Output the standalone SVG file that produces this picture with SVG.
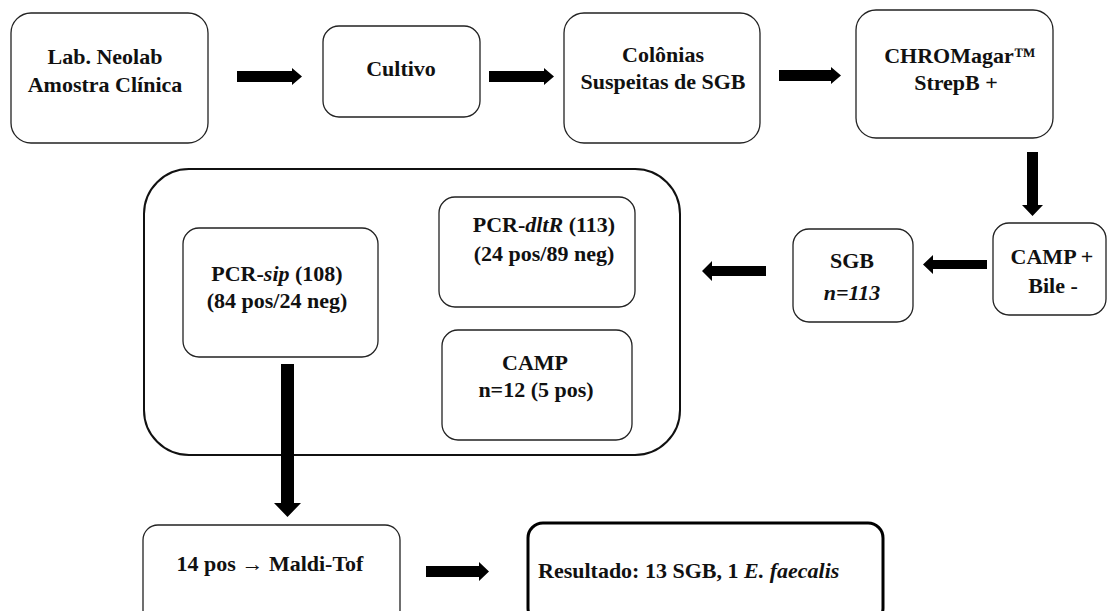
<svg xmlns="http://www.w3.org/2000/svg" width="1107" height="611" viewBox="0 0 1107 611">
<style>
.box{fill:#fff;stroke:#222;stroke-width:1.3}
.big{fill:none;stroke:#111;stroke-width:2}
.res{fill:#fff;stroke:#000;stroke-width:3}
.t{font-weight:bold;font-size:22px;fill:#111;text-anchor:middle}
.i{font-style:italic}
.arr{fill:#000}
</style>
<rect width="1107" height="611" fill="#fff"/>
<g font-family="Liberation Serif, DejaVu Serif, Times New Roman, serif">
<g id="lab">
<rect class="box" x="11" y="13" width="197" height="130" rx="20"/>
<text class="t" x="105" y="64">Lab. Neolab</text>
<text class="t" x="105" y="92">Amostra Clínica</text>
</g>
<g id="cultivo">
<rect class="box" x="323" y="26" width="157" height="91" rx="16"/>
<text class="t" x="401" y="76">Cultivo</text>
</g>
<g id="colonias">
<rect class="box" x="564" y="13" width="196" height="130" rx="20"/>
<text class="t" x="663" y="62">Colônias</text>
<text class="t" x="663" y="89">Suspeitas de SGB</text>
</g>
<g id="chromagar">
<rect class="box" x="856" y="10" width="197" height="128" rx="20"/>
<text class="t" x="960" y="63">CHROMagar™</text>
<text class="t" x="956" y="90">StrepB +</text>
</g>
<g id="campbile">
<rect class="box" x="993" y="223" width="113" height="92" rx="16"/>
<text class="t" x="1052" y="264">CAMP +</text>
<text class="t" x="1053" y="293">Bile -</text>
</g>
<g id="sgb">
<rect class="box" x="793" y="229" width="120" height="93" rx="16"/>
<text class="t" x="852" y="268">SGB</text>
<text class="t i" x="852" y="300">n=113</text>
</g>
<g id="container">
<rect class="big" x="144" y="169" width="536" height="286" rx="45"/>
</g>
<g id="pcrsip">
<rect class="box" x="183" y="228" width="195" height="129" rx="16"/>
<text class="t" x="277" y="281">PCR-<tspan class="i">sip</tspan> (108)</text>
<text class="t" x="277" y="308">(84 pos/24 neg)</text>
</g>
<g id="pcrdltr">
<rect class="box" x="439" y="197" width="196" height="110" rx="16"/>
<text class="t" x="544" y="232">PCR-<tspan class="i">dltR</tspan> (113)</text>
<text class="t" x="544" y="261">(24 pos/89 neg)</text>
</g>
<g id="camp">
<rect class="box" x="442" y="330" width="190" height="110" rx="16"/>
<text class="t" x="535" y="370">CAMP</text>
<text class="t" x="536" y="397">n=12 (5 pos)</text>
</g>
<g id="maldi">
<rect class="box" x="143" y="525" width="257" height="100" rx="15"/>
<text class="t" x="270" y="571">14 pos → Maldi-Tof</text>
</g>
<g id="resultado">
<rect class="res" x="528" y="523" width="355" height="100" rx="15"/>
<text class="t" x="538" y="578" style="text-anchor:start">Resultado: 13 SGB, 1 <tspan class="i">E. faecalis</tspan></text>
</g>
</g>
<g id="connectors">
<polygon class="arr" points="237,71 292,71 292,68 302,76.5 292,85 292,82 237,82"/>
<polygon class="arr" points="489,71 544,71 544,68 554,76.5 544,85 544,82 489,82"/>
<polygon class="arr" points="779,70 831,70 831,67 841,75.5 831,84 831,81 779,81"/>
<polygon class="arr" points="1027,152 1038,152 1038,205 1043,205 1032.5,216 1022,205 1027,205"/>
<polygon class="arr" points="987,260 933,260 933,255 923,264.5 933,274 933,269 987,269"/>
<polygon class="arr" points="766,266 712,266 712,261 702,271 712,281 712,276 766,276"/>
<polygon class="arr" points="281,364 294,364 294,503 301,503 287.5,517 274,503 281,503"/>
<polygon class="arr" points="426,566 479,566 479,562 489,571.5 479,581 479,577 426,577"/>
</g>
</svg>
